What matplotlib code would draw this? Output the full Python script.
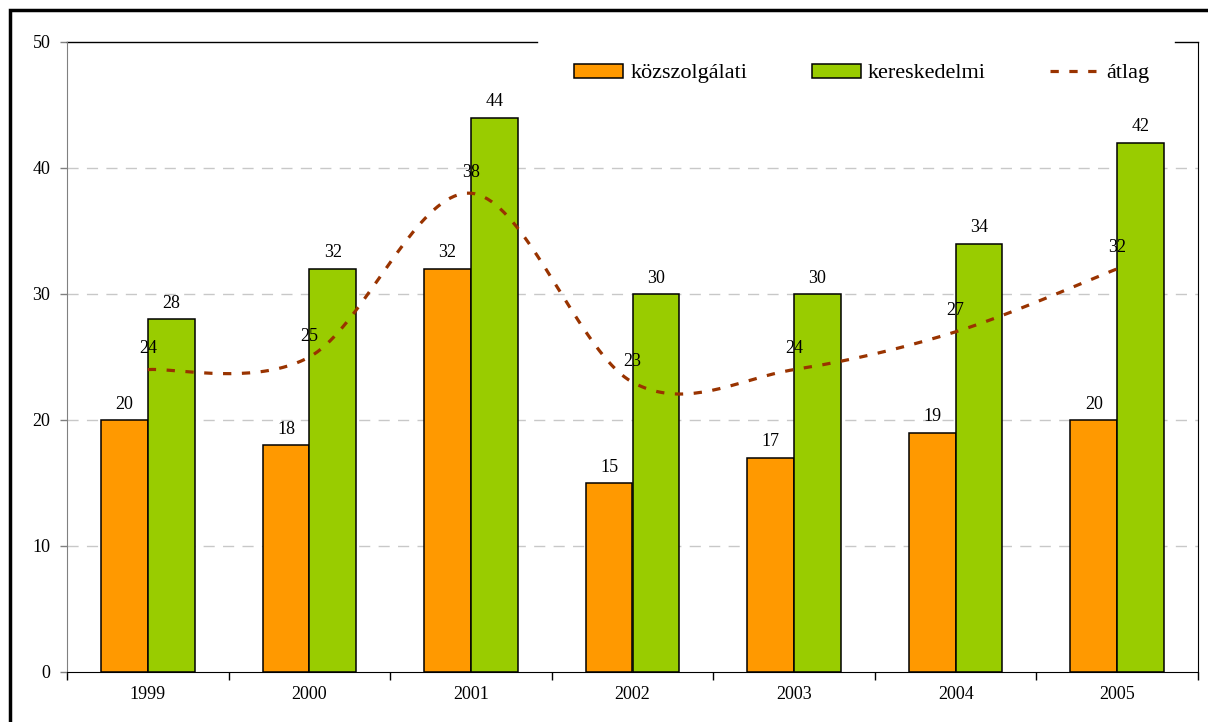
import numpy as np
import matplotlib
matplotlib.use("Agg")
import matplotlib.pyplot as plt
from matplotlib.lines import Line2D
from matplotlib.patches import Patch, Rectangle

plt.rcParams["font.family"] = ["Liberation Serif", "DejaVu Serif"]

years = ["1999", "2000", "2001", "2002", "2003", "2004", "2005"]
kozszolgalati = [20, 18, 32, 15, 17, 19, 20]
kereskedelmi = [28, 32, 44, 30, 30, 34, 42]
atlag = [24, 25, 38, 23, 24, 27, 32]

ORANGE = "#FF9900"
GREEN = "#99CC00"
LINE = "#993300"


def smooth(xs, ys, n=40):
    """Catmull-Rom smoothing like a spreadsheet 'smoothed line'."""
    xs = np.asarray(xs, float)
    ys = np.asarray(ys, float)
    px = np.concatenate([[xs[0]], xs, [xs[-1]]])
    py = np.concatenate([[ys[0]], ys, [ys[-1]]])
    out_x, out_y = [], []
    t = np.linspace(0, 1, n)
    h00 = 2 * t**3 - 3 * t**2 + 1
    h10 = t**3 - 2 * t**2 + t
    h01 = -2 * t**3 + 3 * t**2
    h11 = t**3 - t**2
    for i in range(1, len(px) - 2):
        mx1 = (px[i + 1] - px[i - 1]) / 2
        mx2 = (px[i + 2] - px[i]) / 2
        my1 = (py[i + 1] - py[i - 1]) / 2
        my2 = (py[i + 2] - py[i]) / 2
        out_x.append(h00 * px[i] + h10 * mx1 + h01 * px[i + 1] + h11 * mx2)
        out_y.append(h00 * py[i] + h10 * my1 + h01 * py[i + 1] + h11 * my2)
    return np.concatenate(out_x), np.concatenate(out_y)


fig = plt.figure(figsize=(12.08, 7.22), dpi=100)
ax = fig.add_axes([67 / 1208, 50 / 722, 1131 / 1208, 630 / 722])

x = np.arange(len(years))
w = 0.29
ax.bar(x - w / 2, kozszolgalati, w, color=ORANGE, edgecolor="black", linewidth=1.1, zorder=3)
ax.bar(x + w / 2, kereskedelmi, w, color=GREEN, edgecolor="black", linewidth=1.1, zorder=3)

sx, sy = smooth(x, atlag)
ax.plot(sx, sy, color=LINE, lw=2.3, linestyle=(0, (2.6, 3.3)), zorder=4)

for xi, v in zip(x, kozszolgalati):
    ax.annotate(str(v), (xi - w / 2, v), xytext=(0, 11.5), textcoords="offset points",
                ha="center", va="center", fontsize=13, zorder=5)
for xi, v in zip(x, kereskedelmi):
    ax.annotate(str(v), (xi + w / 2, v), xytext=(0, 11.5), textcoords="offset points",
                ha="center", va="center", fontsize=13, zorder=5)
for xi, v in zip(x, atlag):
    ax.annotate(str(v), (xi, v), xytext=(0, 15), textcoords="offset points",
                ha="center", va="center", fontsize=13, zorder=5)

ax.set_xlim(-0.5, len(years) - 0.5)
ax.set_ylim(0, 50)
ax.set_yticks(range(0, 51, 10))
ax.set_xticks(np.arange(-0.5, len(years), 1.0))
ax.set_xticklabels([])
ax.set_xticks(x, minor=True)
ax.set_xticklabels(years, minor=True)
ax.tick_params(axis="x", which="major", direction="out", length=6, width=1, color="black")
ax.tick_params(axis="x", which="minor", length=0, pad=10, labelsize=13)
ax.tick_params(axis="y", direction="out", length=5, width=1, color="#808080", pad=7, labelsize=13)

for yv in range(10, 50, 10):
    ax.axhline(yv, color="#C8C8C8", lw=1, linestyle=(0, (8, 6)), zorder=1)

ax.spines["left"].set_color("#808080")
ax.spines["bottom"].set_color("black")
ax.spines["right"].set_color("black")
ax.spines["top"].set_visible(False)
ax.plot([0, 470 / 1131], [1, 1], transform=ax.transAxes, color="black", lw=1, clip_on=False)
ax.plot([1108 / 1131, 1], [1, 1], transform=ax.transAxes, color="black", lw=1, clip_on=False)

handles = [
    Patch(facecolor=ORANGE, edgecolor="black", linewidth=1.1),
    Patch(facecolor=GREEN, edgecolor="black", linewidth=1.1),
    Line2D([0], [0], color=LINE, lw=2.3, linestyle=(0, (2.6, 3.3))),
]
ax.legend(handles, ["közszolgálati", "kereskedelmi", "átlag"], ncol=3, frameon=False,
          loc="center left", bbox_to_anchor=(496 / 1131, 0.950), borderpad=0,
          fontsize=16, handlelength=2.2, handleheight=0.6, handletextpad=0.33,
          columnspacing=2.9)

fig.patches.append(Rectangle((10 / 1208, -0.1), 1.2, 712 / 722 + 0.1,
                             transform=fig.transFigure, fill=False, edgecolor="black",
                             linewidth=2.5))

fig.savefig("out.png", dpi=100)
